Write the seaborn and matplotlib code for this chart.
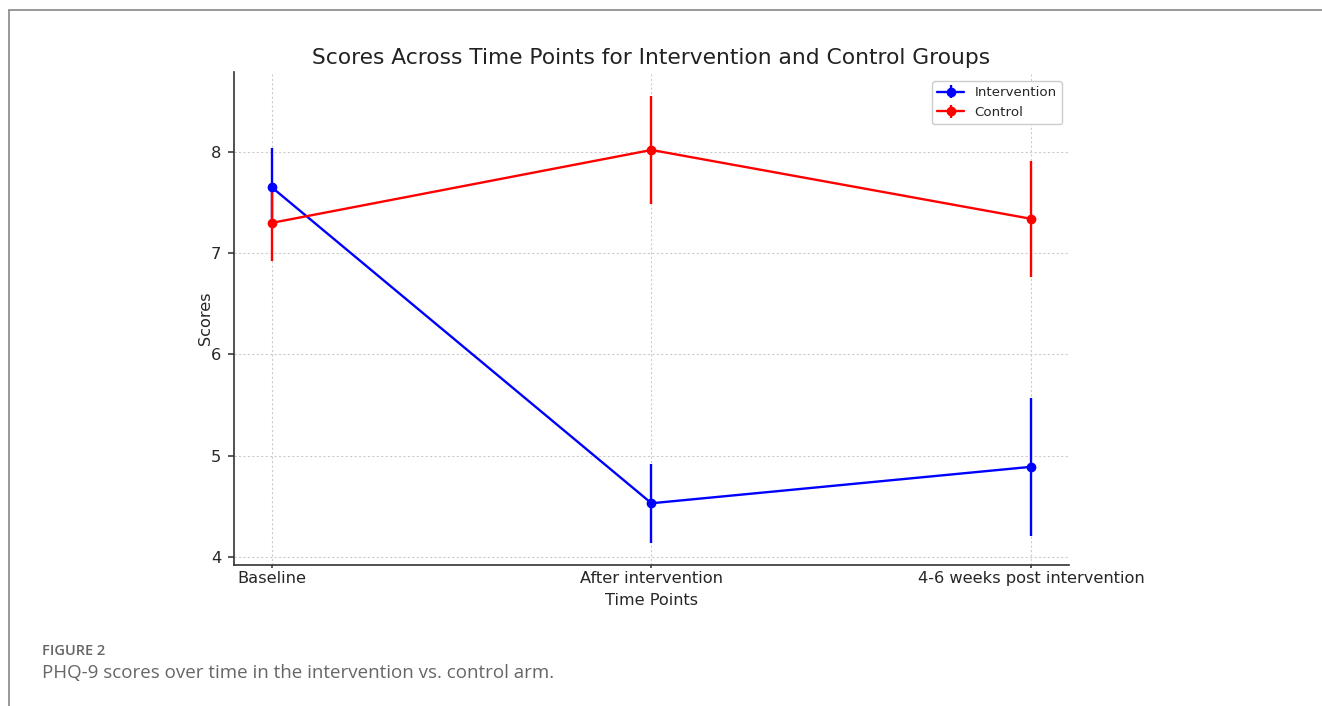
import matplotlib
matplotlib.use("Agg")
import matplotlib.pyplot as plt
import seaborn as sns
import pandas as pd
from matplotlib.lines import Line2D

time_points = ["Baseline", "After intervention", "4-6 weeks post intervention"]
intervention_mean = [7.65, 4.53, 4.89]
intervention_err = [0.39, 0.39, 0.68]
control_mean = [7.30, 8.02, 7.34]
control_err = [0.38, 0.53, 0.57]
groups = ["Intervention", "Control"]
group_colors = ["blue", "red"]

sns.set_theme(style="whitegrid")
plt.rcParams["font.family"] = ["DejaVu Sans"]

df = pd.DataFrame({
    "Time Points": time_points * 2,
    "Scores": intervention_mean + control_mean,
    "err": intervention_err + control_err,
    "Group": [groups[0]] * 3 + [groups[1]] * 3,
})

fig = plt.figure(figsize=(13.22, 7.06), dpi=100)
ax = fig.add_axes([0.177, 0.1997, 0.6316, 0.6983])

for name, color in zip(groups, group_colors):
    sub = df[df["Group"] == name]
    x = range(len(sub))
    ax.errorbar(x, sub["Scores"], yerr=sub["err"], color=color, marker="o",
                markersize=6, linewidth=1.7, elinewidth=1.7, label=name, zorder=3)

ax.set_xticks(range(len(time_points)))
ax.set_xticklabels(time_points, fontsize=11.7)
ax.set_xlim(-0.1, 2.1)
ax.set_ylim(3.92, 8.79)
ax.set_yticks([4, 5, 6, 7, 8])
ax.tick_params(axis="y", labelsize=11.7, left=True, length=4, pad=5, color="#444444")
ax.tick_params(axis="x", bottom=True, length=2, pad=2, color="#444444")
ax.grid(True, linestyle=(0, (2, 2)), color="#cccccc", linewidth=0.8)
for side in ["top", "right"]:
    ax.spines[side].set_visible(False)
for side in ["left", "bottom"]:
    ax.spines[side].set_color("#333333")
    ax.spines[side].set_linewidth(1.2)
ax.set_facecolor("white")

ax.set_xlabel("Time Points", fontsize=11.6, labelpad=5)
ax.set_ylabel("Scores", fontsize=11.6, labelpad=-1)
ax.set_title("Scores Across Time Points for Intervention and Control Groups",
             fontsize=15.7, pad=6, color="#222222")

leg = ax.legend(loc="upper right", fontsize=9.6, frameon=True, fancybox=True,
                framealpha=1, edgecolor="#cccccc", borderaxespad=0,
                bbox_to_anchor=(1 - 7 / 835, 1 - 9 / 493))

# Page frame and caption
fig.add_artist(Line2D([9 / 1322, 1], [1 - 10 / 706, 1 - 10 / 706],
                      transform=fig.transFigure, color="#888888", linewidth=1.2))
fig.add_artist(Line2D([9 / 1322, 9 / 1322], [0, 1 - 10 / 706],
                      transform=fig.transFigure, color="#888888", linewidth=1.2))
fig.text(42 / 1322, 1 - 651 / 706, "FIGURE 2", fontsize=10.5, color="#666666",
         family=["Open Sans", "DejaVu Sans"], fontweight="semibold", va="center")
fig.text(42 / 1322, 1 - 673 / 706,
         "PHQ-9 scores over time in the intervention vs. control arm.",
         fontsize=13.5, color="#666666", family=["Open Sans", "DejaVu Sans"], va="center")

fig.savefig("out.png", dpi=100, facecolor="white")
